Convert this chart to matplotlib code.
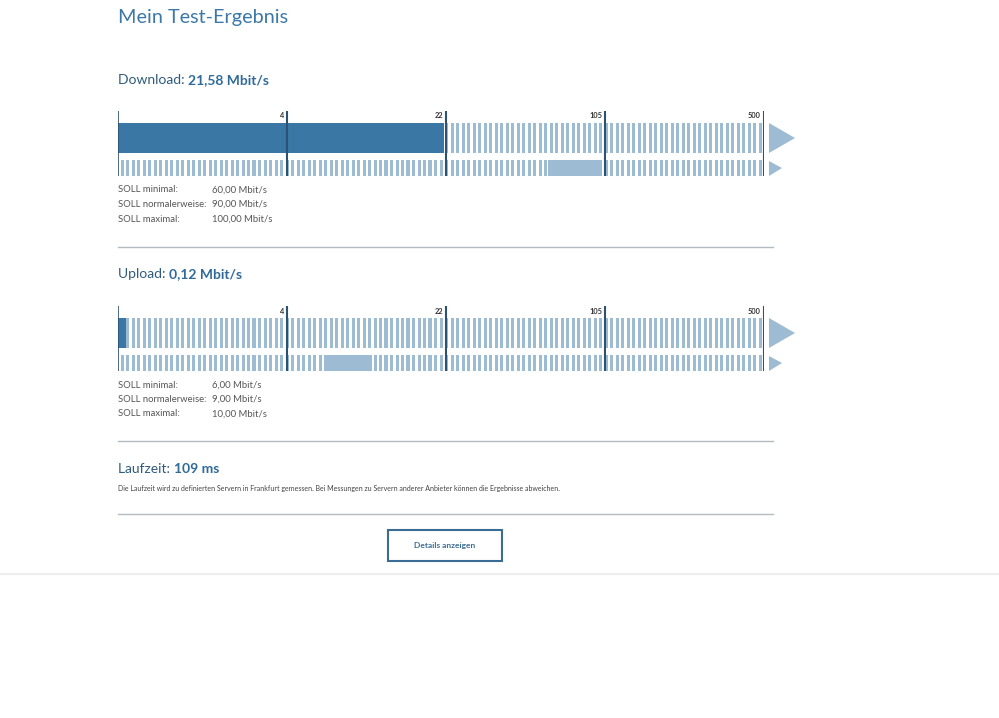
import numpy as np
import matplotlib.pyplot as plt
from matplotlib.patches import Rectangle, Polygon
from matplotlib.transforms import blended_transform_factory, offset_copy

plt.rcParams['font.family'] = ['Lato', 'DejaVu Sans']

# data
scale_breaks = [0.1, 4, 22, 105, 500]
scale_ticks = [4, 22, 105, 500]
download = 21.58
download_soll = [60, 90, 100]
upload = 0.12
upload_soll = [6, 9, 10]
latency_ms = 109
soll_labels = ["SOLL minimal:", "SOLL normalerweise:", "SOLL maximal:"]

# colours
title_col = "#3b78a8"
head_col = "#2f5b7c"
value_col = "#2f6a98"
dark_bar = "#3a77a4"
light_bar = "#9dbbd3"
line_col = "#2b5272"
grey_text = "#555555"


def de(v):
    return f"{v:.2f}".replace(".", ",")


# piecewise log scale, first segment a bit wider than the others
log_breaks = np.log10(scale_breaks)
seg_pos = np.array([0, 169, 328, 487, 646], dtype=float)


def fwd(v):
    v = np.clip(np.asarray(v, dtype=float), 1e-3, None)
    return np.interp(np.log10(v), log_breaks, seg_pos)


def inv(x):
    return 10 ** np.interp(np.asarray(x, dtype=float), seg_pos, log_breaks)


W, H = 999, 718
fig = plt.figure(figsize=(W / 100, H / 100), dpi=100)
bg = fig.add_axes([0, 0, 1, 1])
bg.set_xlim(0, W)
bg.set_ylim(H, 0)
bg.axis("off")
renderer = fig.canvas.get_renderer()

x0, x1 = 118, 764


def heading(y, label, value):
    t = bg.text(x0, y, label, fontsize=10, color=head_col, va="baseline")
    w = t.get_window_extent(renderer).width
    bg.text(x0 + w, y, value, fontsize=10, color=value_col,
            fontweight="bold", va="baseline", ha="left")


def gauge(top, value, soll):
    ax = fig.add_axes([x0 / W, 1 - (top + 65) / H, (x1 - x0) / W, 65 / H])
    ax.set_xscale("function", functions=(fwd, inv))
    ax.set_xlim(scale_breaks[0], scale_breaks[-1])
    ax.set_ylim(65, 0)
    ax.axis("off")

    # striped background of both rows
    tr = blended_transform_factory(ax.transAxes, ax.transData)
    pitch = 5.5 / (x1 - x0)
    sw = 3.2 / (x1 - x0)
    for xs in np.arange(2.5 / (x1 - x0), 1 - sw / 2, pitch):
        for (y, h) in [(12, 30), (49, 16)]:
            ax.add_patch(Rectangle((xs, y), sw, h, transform=tr,
                                   color=light_bar, lw=0, zorder=1))

    # measured value and SOLL range
    ax.barh(27, value - scale_breaks[0], left=scale_breaks[0], height=30,
            color=dark_bar, zorder=2)
    ax.barh(57, soll[2] - soll[0], left=soll[0], height=16,
            color=light_bar, zorder=2)

    ax.axvline(scale_breaks[0], color=line_col, lw=1.2, zorder=3)
    for v in scale_ticks:
        ax.axvline(v, color=line_col, lw=1.5, zorder=3)
        ax.text(v, 5, str(v), transform=offset_copy(ax.transData, fig, x=-3, units="dots"),
                ha="right", va="center", fontsize=5.3, fontweight="bold", color="#333333")

    # arrow heads
    bg.add_patch(Polygon([(x1 + 5, top + 12), (x1 + 31, top + 27), (x1 + 5, top + 42)],
                         closed=True, color=light_bar, lw=0))
    bg.add_patch(Polygon([(x1 + 5, top + 50), (x1 + 18, top + 57), (x1 + 5, top + 65)],
                         closed=True, color=light_bar, lw=0))
    return ax


def soll_block(y, soll):
    for i, (lab, v) in enumerate(zip(soll_labels, soll)):
        bg.text(x0, y + i * 14.5, lab, fontsize=6.8, color=grey_text, va="center")
        bg.text(212, y + i * 14.5, f"{de(v)} Mbit/s", fontsize=6.8, color=grey_text, va="center")


def separator(y):
    bg.plot([x0, 773], [y, y], color="#b3bac1", lw=1)


bg.text(x0, 17, "Mein Test-Ergebnis", fontsize=14.3, color=title_col, va="center")

heading(84, "Download: ", f"{de(download)} Mbit/s")
gauge(111, download, download_soll)
soll_block(190, download_soll)
separator(247)

heading(278, "Upload: ", f"{de(upload)} Mbit/s")
gauge(306, upload, upload_soll)
soll_block(385, upload_soll)
separator(441)

heading(473, "Laufzeit: ", f"{latency_ms} ms")
bg.text(x0, 489, "Die Laufzeit wird zu definierten Servern in Frankfurt gemessen. "
        "Bei Messungen zu Servern anderer Anbieter können die Ergebnisse abweichen.",
        fontsize=5, color="#444444", va="center")
separator(514)

bg.add_patch(Rectangle((388, 530), 114, 31, fill=False, ec="#3a6d96", lw=1.5))
bg.text(445, 545.5, "Details anzeigen", fontsize=6, fontweight="bold",
        color="#3a6d96", ha="center", va="center")

bg.plot([0, W], [574, 574], color="#eeeeee", lw=1.5)

fig.savefig("out.png", dpi=100)
